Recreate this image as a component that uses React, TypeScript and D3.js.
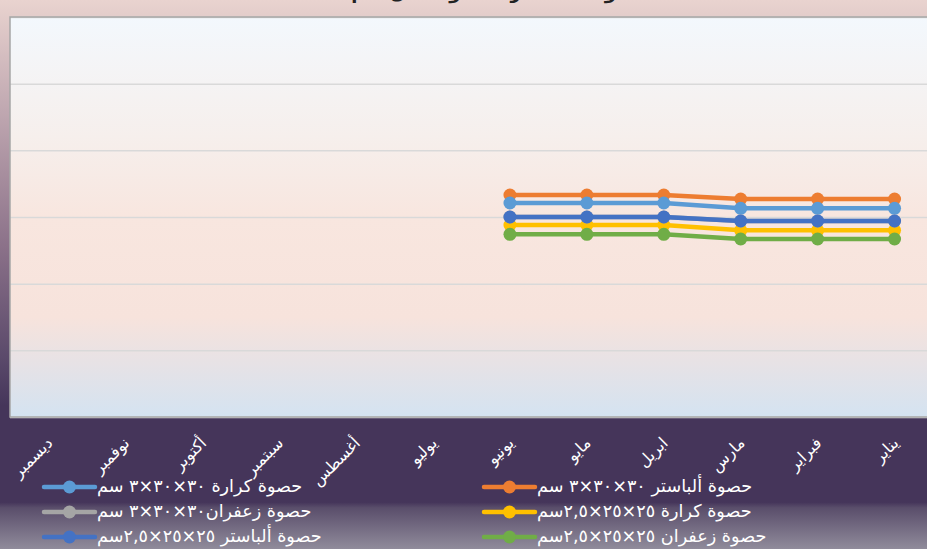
import { useRef, useEffect } from "react";
import * as d3 from "d3";

// months in data order (axis is drawn right-to-left)
const months = [
  "يناير", "فبراير", "مارس", "ابريل", "مايو", "يونيو",
  "يوليو", "أغسطس", "سبتمبر", "أكتوبر", "نوفمبر", "ديسمبر",
];

const seriesNames = [
  "حصوة ألباستر  ٣٠×٣٠×٣ سم",
  "حصوة كرارة ٣٠×٣٠×٣ سم",
  "حصوة كرارة ٢٥×٢٥×٢,٥سم",
  "حصوة زعفران٣٠×٣٠×٣ سم",
  "حصوة زعفران ٢٥×٢٥×٢,٥سم",
  "حصوة ألباستر ٢٥×٢٥×٢,٥سم",
];

const seriesColors = ["#ed7d31", "#5b9bd5", "#ffc000", "#a5a5a5", "#70ad47", "#4472c4"];

// values Jan..Jun, rest of year empty
const albaster30 = [327, 327, 327, 333, 333, 333, null, null, null, null, null, null];
const karara30 = [313, 313, 313, 321, 321, 321, null, null, null, null, null, null];
const karara25 = [280, 280, 280, 288, 288, 288, null, null, null, null, null, null];
const zaafaran30 = [294, 294, 294, 300, 300, 300, null, null, null, null, null, null];
const zaafaran25 = [267, 267, 267, 274, 274, 274, null, null, null, null, null, null];
const albaster25 = [294, 294, 294, 300, 300, 300, null, null, null, null, null, null];

const seriesValues = [albaster30, karara30, karara25, zaafaran30, zaafaran25, albaster25];

const yTicks = [0, 100, 200, 300, 400, 500, 600];
const title = "متوسط أسعار الحصوة خلال عام ٢٠٢٣";

export default function App() {
  const svgRef = useRef<SVGSVGElement>(null);
  const width = 927;
  const height = 549;

  useEffect(() => {
    if (!svgRef.current) return;
    const svg = d3.select(svgRef.current);
    svg.selectAll("*").remove();

    const font = "'DejaVu Sans', sans-serif";
    const plot = { left: 10, right: 933, top: 17, bottom: 417 };

    const defs = svg.append("defs");
    const bg = defs.append("linearGradient").attr("id", "bg")
      .attr("x1", 0).attr("y1", 0).attr("x2", 0).attr("y2", 1);
    [
      [0, "#e9d3cf"], [0.2, "#c0a8b1"], [0.45, "#8b7189"], [0.65, "#5b4a6b"],
      [0.74, "#45355a"], [0.915, "#45355a"], [0.925, "#5a4e6b"], [1, "#908b9b"],
    ].forEach(([o, c]) => bg.append("stop").attr("offset", o as number).attr("stop-color", c as string));

    const pg = defs.append("linearGradient").attr("id", "pg")
      .attr("x1", 0).attr("y1", 0).attr("x2", 0).attr("y2", 1);
    [
      [0, "#f3f8fd"], [0.3, "#f6efec"], [0.5, "#f8e6df"], [0.75, "#f7e3dc"],
      [0.87, "#e6e2e6"], [1, "#d4e3f1"],
    ].forEach(([o, c]) => pg.append("stop").attr("offset", o as number).attr("stop-color", c as string));

    svg.append("rect").attr("width", width).attr("height", height).attr("fill", "url(#bg)");

    // title sits mostly above the visible area, as in the original
    svg.append("text")
      .attr("x", 468).attr("y", -1)
      .attr("text-anchor", "middle")
      .attr("font-family", font).attr("font-size", 18).attr("font-weight", "bold")
      .attr("fill", "#222")
      .text(title);

    const x = d3.scaleBand<string>().domain(months).range([plot.right, plot.left]);
    const y = d3.scaleLinear().domain([0, 600]).range([plot.bottom, plot.top]);
    const cx = (m: string) => (x(m) ?? 0) + x.bandwidth() / 2;

    svg.append("rect")
      .attr("x", plot.left).attr("y", plot.top)
      .attr("width", plot.right - plot.left).attr("height", plot.bottom - plot.top)
      .attr("fill", "url(#pg)");

    // gridlines
    const grid = svg.append("g").attr("transform", `translate(${plot.left},0)`)
      .call(d3.axisLeft(y).tickValues(yTicks).tickSize(-(plot.right - plot.left)).tickFormat(() => ""));
    grid.select(".domain").remove();
    grid.selectAll(".tick line").attr("stroke", "#d9d9d9").attr("stroke-width", 1.5);

    svg.append("rect")
      .attr("x", plot.left).attr("y", plot.top)
      .attr("width", plot.right - plot.left).attr("height", plot.bottom - plot.top)
      .attr("fill", "none").attr("stroke", "#a6a6a6").attr("stroke-width", 1.5);

    // x labels
    svg.append("g").selectAll("text").data(months).join("text")
      .attr("transform", (d) => `translate(${cx(d) + 5},${plot.bottom + 27}) rotate(-45)`)
      .attr("text-anchor", "end")
      .attr("font-family", font).attr("font-size", 16)
      .attr("fill", "#ffffff")
      .text((d) => d);

    // lines
    const line = d3.line<number | null>()
      .defined((d) => d != null)
      .x((_, i) => cx(months[i]))
      .y((d) => y(d as number));

    seriesValues.forEach((vals, s) => {
      const g = svg.append("g");
      g.append("path").datum(vals)
        .attr("d", line)
        .attr("fill", "none")
        .attr("stroke", seriesColors[s])
        .attr("stroke-width", 4.5)
        .attr("stroke-linejoin", "round");
      g.selectAll("circle")
        .data(vals.map((v, i) => ({ v, m: months[i] })).filter((d) => d.v != null))
        .join("circle")
        .attr("cx", (d) => cx(d.m))
        .attr("cy", (d) => y(d.v as number))
        .attr("r", 6.5)
        .attr("fill", seriesColors[s]);
    });

    // legend: two columns, filled right to left row by row
    const legend = svg.append("g");
    seriesNames.forEach((name, i) => {
      const col = i % 2;
      const row = Math.floor(i / 2);
      const lx = col === 0 ? 484 : 44;
      const ly = 487 + row * 25;
      const item = legend.append("g");
      item.append("line")
        .attr("x1", lx).attr("x2", lx + 51).attr("y1", ly).attr("y2", ly)
        .attr("stroke", seriesColors[i]).attr("stroke-width", 4.5).attr("stroke-linecap", "round");
      item.append("circle").attr("cx", lx + 25.5).attr("cy", ly).attr("r", 6.5).attr("fill", seriesColors[i]);
      item.append("text")
        .attr("x", lx + 53).attr("y", ly + 5)
        .attr("direction", "rtl")
        .attr("text-anchor", "end")
        .attr("font-family", font).attr("font-size", 17.6)
        .attr("fill", "#ffffff")
        .text(name);
    });
  }, []);

  return (
    <svg
      ref={svgRef}
      width={width}
      height={height}
      style={{ position: "absolute", left: 0, top: 0, display: "block" }}
    />
  );
}
